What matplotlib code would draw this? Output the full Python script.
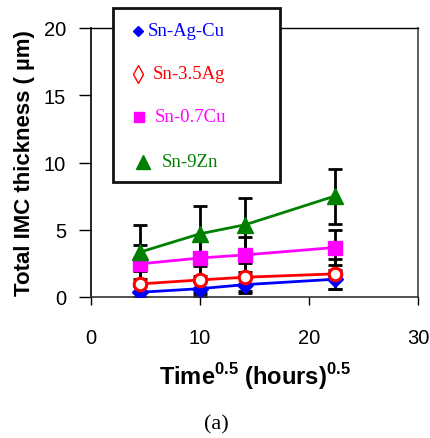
import matplotlib
matplotlib.use("Agg")
import matplotlib.pyplot as plt
from matplotlib.patches import Rectangle
from matplotlib.lines import Line2D

plt.rcParams['font.family'] = ['Liberation Sans', 'DejaVu Sans']
plt.rcParams['mathtext.fontset'] = 'custom'
plt.rcParams['mathtext.rm'] = 'Liberation Sans'
plt.rcParams['mathtext.bf'] = 'Liberation Sans:bold'

# ---- data ----
time_sqrt = [4.47, 10.0, 14.14, 22.36]
series_names = ["Sn-Ag-Cu", "Sn-3.5Ag", "Sn-0.7Cu", "Sn-9Zn"]
sac_vals = [0.35, 0.62, 0.92, 1.32]
sac_err = [0.45, 0.55, 0.6, 0.72]
ag_vals = [0.97, 1.27, 1.47, 1.72]
ag_err = [1.0, 1.0, 1.05, 1.1]
cu_vals = [2.46, 2.9, 3.13, 3.68]
cu_err = [1.4, 1.35, 1.3, 1.32]
zn_vals = [3.33, 4.7, 5.37, 7.5]
zn_err = [2.0, 2.1, 2.0, 2.05]
x_ticks = [0, 10, 20, 30]
y_ticks = [0, 5, 10, 15, 20]

colors = ["#0000FF", "#FF0000", "#FF00FF", "#008000"]
vals = [sac_vals, ag_vals, cu_vals, zn_vals]
errs = [sac_err, ag_err, cu_err, zn_err]
mstyle = [
    dict(marker='D', ms=8, mfc=colors[0], mec=colors[0], mew=1),
    dict(marker='o', ms=9, mfc='white', mec=colors[1], mew=2.2),
    dict(marker='s', ms=10, mfc=colors[2], mec=colors[2], mew=1),
    dict(marker='^', ms=12, mfc=colors[3], mec=colors[3], mew=1),
]

fig = plt.figure(figsize=(4.31, 4.39), dpi=100)
ax = fig.add_axes([91/431, 1-298/439, (418-91)/431, (298-29)/439])

for v, e in zip(vals, errs):
    ax.errorbar(time_sqrt, v, yerr=e, fmt='none', ecolor='black',
                elinewidth=2, capsize=5, capthick=2, zorder=2)
for v, c, ms in zip(vals, colors, mstyle):
    ax.plot(time_sqrt, v, color=c, lw=2, zorder=3, **ms)

ax.set_xlim(0, 30)
ax.set_ylim(0, 20)
ax.set_xticks(x_ticks)
ax.set_yticks(y_ticks)
ax.tick_params(axis='x', direction='out', length=6, width=1, labelsize=14.5, pad=16)
ax.tick_params(axis='y', direction='out', length=9, width=1, labelsize=14.5, pad=9)
for s in ['left', 'bottom']:
    ax.spines[s].set_linewidth(1.2)
    ax.spines[s].set_color('black')
ax.spines['bottom'].set_color('#333333')
ax.spines['top'].set_linewidth(1.0)
ax.spines['right'].set_linewidth(1.2)
ax.spines['right'].set_color('#444444')

ax.set_xlabel(r"Time$^{\mathbf{0.5}}$ (hours)$^{\mathbf{0.5}}$", fontsize=17,
              fontweight='bold', labelpad=10)
ax.set_ylabel("Total IMC thickness ( µm)", fontsize=16, fontweight='bold', labelpad=6)

# legend box (manual)
lx0, lx1 = 113/431, 280/431
ly0, ly1 = 1-183/439, 1-9/439
fig.patches.append(Rectangle((lx0, ly0), lx1-lx0, ly1-ly0, transform=fig.transFigure,
                             facecolor='white', edgecolor='#111111', lw=2, zorder=5))
leg_y = [32, 75, 118, 163]
leg_mx = [138, 138, 139, 143]
leg_tx = [148, 153, 155, 162]
leg_ms = [
    dict(marker='D', ms=5.5, mfc=colors[0], mec=colors[0]),
    dict(marker='D', ms=6.5, mfc='white', mec=colors[1], mew=1),
    dict(marker='s', ms=6.5, mfc=colors[2], mec=colors[2]),
    dict(marker='^', ms=10, mfc=colors[3], mec=colors[3]),
]
for name, c, y, mx, tx, ms in zip(series_names, colors, leg_y, leg_mx, leg_tx, leg_ms):
    if name == "Sn-3.5Ag":
        fig.lines.append(Line2D([mx/431], [1-y/439], transform=fig.transFigure,
                                linestyle='none', zorder=6, marker='d', ms=9,
                                mfc='white', mec=c, mew=1))
    else:
        fig.lines.append(Line2D([mx/431], [1-y/439], transform=fig.transFigure,
                                linestyle='none', zorder=6, **ms))
    fig.text(tx/431, 1-y/439, name, color=c, fontsize=13.5, family='Liberation Serif',
             va='center', ha='left', zorder=6)

fig.text(216/431, 1-425/439, "(a)", fontsize=16, family='Liberation Serif',
         ha='center', va='center')

fig.savefig("out.png", dpi=100)
